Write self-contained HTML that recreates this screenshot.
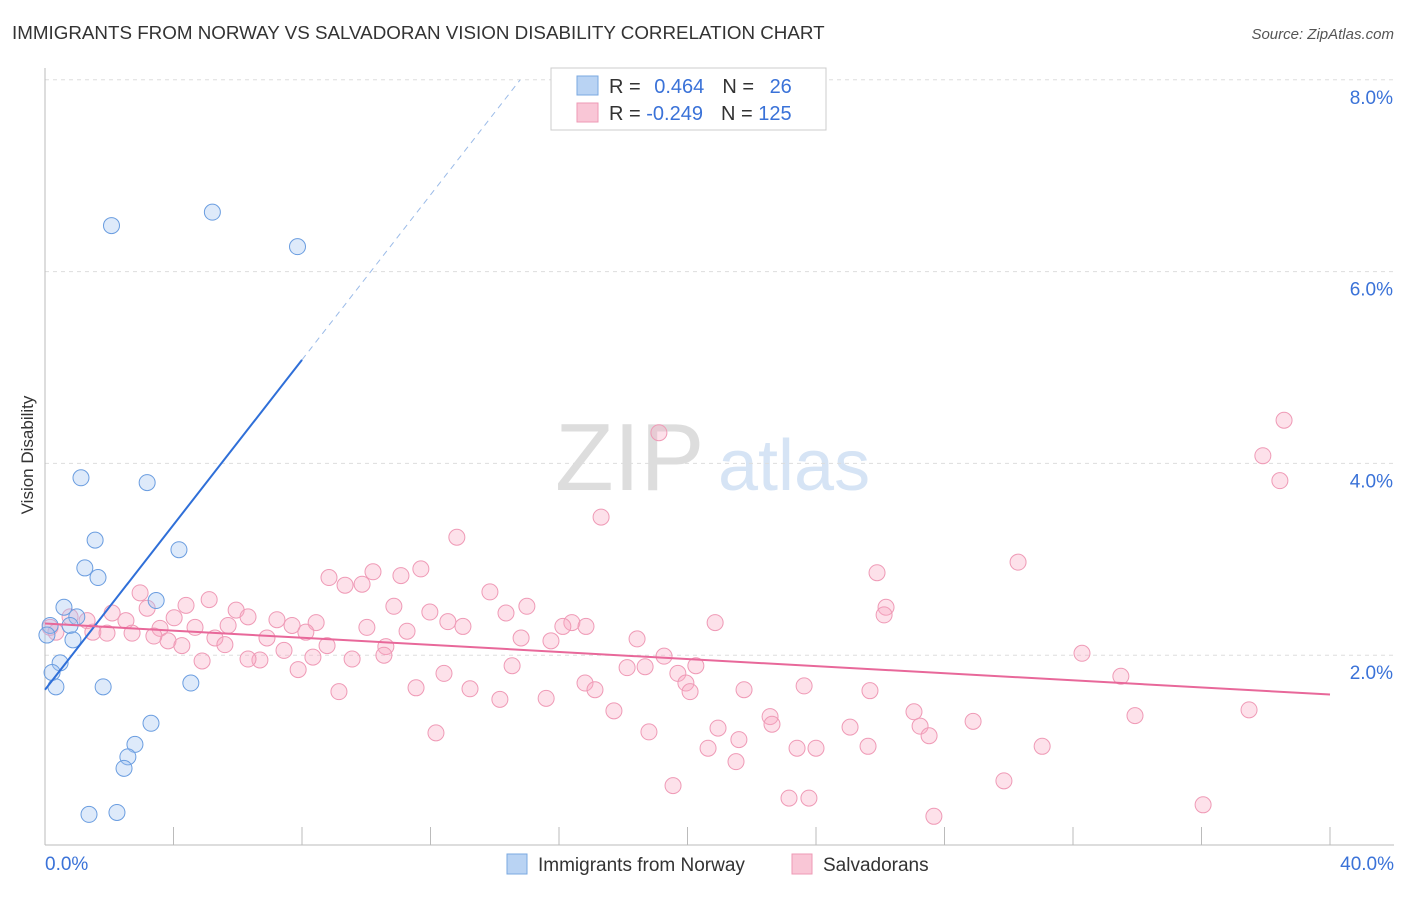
<!DOCTYPE html>
<html><head><meta charset="utf-8"><style>
body{margin:0;background:#fff;font-family:"Liberation Sans",sans-serif;}
svg text{font-family:"Liberation Sans",sans-serif;}
</style></head><body>
<svg id="c" width="1406" height="892">
<text x="12" y="39" font-size="18.8" fill="#333">IMMIGRANTS FROM NORWAY VS SALVADORAN VISION DISABILITY CORRELATION CHART</text>
<text x="1394" y="39" font-size="15" fill="#555" font-style="italic" text-anchor="end">Source: ZipAtlas.com</text>
<text x="33" y="455" font-size="17" fill="#333" transform="rotate(-90 33 455)" text-anchor="middle">Vision Disability</text>
<text x="555" y="490" font-size="96" fill="#ddd" font-family="Liberation Serif">ZIP</text>
<text x="718" y="490" font-size="72" fill="#d6e4f5">atlas</text>
<g id="grid"></g><g id="marks"></g>
<rect x="551" y="68" width="275" height="62" fill="#fff" stroke="#ccc"/>
<rect x="577" y="76" width="21" height="19" fill="#b9d3f3" stroke="#7aa8e0"/>
<rect x="577" y="103" width="21" height="19" fill="#f9c6d6" stroke="#ee9ab5"/>
<text x="609" y="93" font-size="20" fill="#333">R = <tspan fill="#3a72d8" dx="8">0.464</tspan><tspan dx="18" fill="#333">N = </tspan><tspan fill="#3a72d8" dx="10">26</tspan></text>
<text x="609" y="120" font-size="20" fill="#333">R = <tspan fill="#3a72d8">-0.249</tspan><tspan dx="18" fill="#333">N = </tspan><tspan fill="#3a72d8">125</tspan></text>
<rect x="507" y="854" width="20" height="20" fill="#b9d3f3" stroke="#7aa8e0"/>
<text x="538" y="871" font-size="19" fill="#333">Immigrants from Norway</text>
<rect x="792" y="854" width="20" height="20" fill="#f9c6d6" stroke="#ee9ab5"/>
<text x="823" y="871" font-size="19" fill="#333">Salvadorans</text>
</svg>
<script>
const yTicks=[2,4,6,8];
const xTickLabels=["0.0%","40.0%"];
const blueX=[2.07,5.21,7.86,1.12,3.18,1.56,4.17,1.24,1.65,3.46,0.59,0.99,0.16,0.78,0.06,0.87,0.47,0.22,0.34,1.81,4.54,3.3,2.8,2.58,2.46,1.37,2.24];
const blueY=[6.48,6.62,6.26,3.85,3.8,3.2,3.1,2.91,2.81,2.57,2.5,2.4,2.31,2.31,2.21,2.16,1.92,1.82,1.67,1.67,1.71,1.29,1.07,0.94,0.82,0.34,0.36];
const pinkPx=[[1284,420],[1263,456],[1280,481],[659,433],[601,517],[457,537],[1018,562],[877,573],[421,569],[401,576],[373,572],[329,578],[345,585],[362,584],[490,592],[140,593],[209,600],[186,605],[236,610],[394,606],[527,606],[886,607],[884,615],[506,613],[430,612],[147,608],[112,613],[70,617],[87,621],[126,621],[174,618],[248,617],[277,620],[316,623],[448,622],[463,626],[572,623],[586,626],[563,626],[715,623],[50,627],[56,632],[93,632],[107,633],[132,633],[160,628],[195,627],[228,625],[292,625],[306,632],[367,627],[407,631],[521,638],[551,641],[637,639],[267,638],[215,638],[168,641],[154,636],[182,646],[225,645],[327,646],[386,647],[384,655],[284,650],[260,660],[202,661],[248,659],[352,659],[313,657],[664,656],[696,666],[1082,653],[1121,676],[512,666],[627,668],[645,667],[678,673],[444,673],[298,670],[585,683],[686,683],[690,692],[595,690],[416,688],[470,689],[500,699],[546,698],[744,690],[804,686],[870,691],[339,692],[614,711],[718,728],[770,717],[772,724],[850,727],[914,712],[920,726],[929,736],[973,721],[1135,716],[1249,710],[436,733],[649,732],[739,740],[708,748],[797,748],[816,748],[868,746],[1042,746],[736,762],[1004,781],[673,786],[789,798],[809,798],[934,816],[1203,805]];
const pinkX=pinkPx.map(p=>+((p[0]-45)/1285*40).toFixed(2));
const pinkY=pinkPx.map(p=>+((847-p[1])/95.9).toFixed(2));
const blueFit=[0,1.64,8.0,5.08];
const pinkFit=[0,2.33,40,1.59];
const X=v=>45+v/40*1285, Y=v=>847-v*95.9;
const NS="http://www.w3.org/2000/svg";
function mk(t,a,p){const e=document.createElementNS(NS,t);for(const k in a)e.setAttribute(k,a[k]);p.appendChild(e);return e;}
const g=document.getElementById('grid'),m=document.getElementById('marks');
yTicks.forEach(t=>{const l=mk('line',{x1:45,x2:1394,y1:Y(t),y2:Y(t),stroke:'#ddd','stroke-dasharray':'4,4'},g);


const tx=mk('text',{x:1393,y:Y(t)+24,'font-size':19,fill:'#3a72d8','text-anchor':'end'},g);tx.textContent=t.toFixed(1)+'%';

});
const ax=mk('line',{x1:45,x2:1394,y1:845,y2:845,stroke:'#bbb'},g);


const ay=mk('line',{x1:45,x2:45,y1:68,y2:845,stroke:'#bbb'},g);


for(let i=0;i<=10;i++){const tk=mk('line',{x1:X(i*4),x2:X(i*4),y1:827,y2:845,stroke:'#bbb'},g);

}
[[0,'start',45],[1,'end',1394]].forEach(([i,a,x])=>{const t=mk('text',{x:x,y:870,'font-size':19,fill:'#3a72d8','text-anchor':a},g);t.textContent=xTickLabels[i];

});
pinkX.forEach((x,i)=>{const c=mk('circle',{cx:X(x),cy:Y(pinkY[i]),r:8,fill:'rgba(249,170,196,0.35)',stroke:'#ef9ab6','stroke-width':1},m);

});
blueX.forEach((x,i)=>{const c=mk('circle',{cx:X(x),cy:Y(blueY[i]),r:8,fill:'rgba(160,196,240,0.35)',stroke:'#6a9de0','stroke-width':1},m);

});
const slope=(blueFit[3]-blueFit[1])/(blueFit[2]-blueFit[0]);
const xe=(8.0-blueFit[1])/slope;
const bd=mk('line',{x1:X(blueFit[2]),y1:Y(blueFit[3]),x2:X(xe),y2:Y(8.0),stroke:'#9bbbe8','stroke-dasharray':'6,5','stroke-width':1},m);


const bl=mk('line',{x1:X(blueFit[0]),y1:Y(blueFit[1]),x2:X(blueFit[2]),y2:Y(blueFit[3]),stroke:'#2f6fd8','stroke-width':2},m);


const pl=mk('line',{x1:X(pinkFit[0]),y1:Y(pinkFit[1]),x2:X(pinkFit[2]),y2:Y(pinkFit[3]),stroke:'#e8689a','stroke-width':2},m);


</script>
</body></html>
